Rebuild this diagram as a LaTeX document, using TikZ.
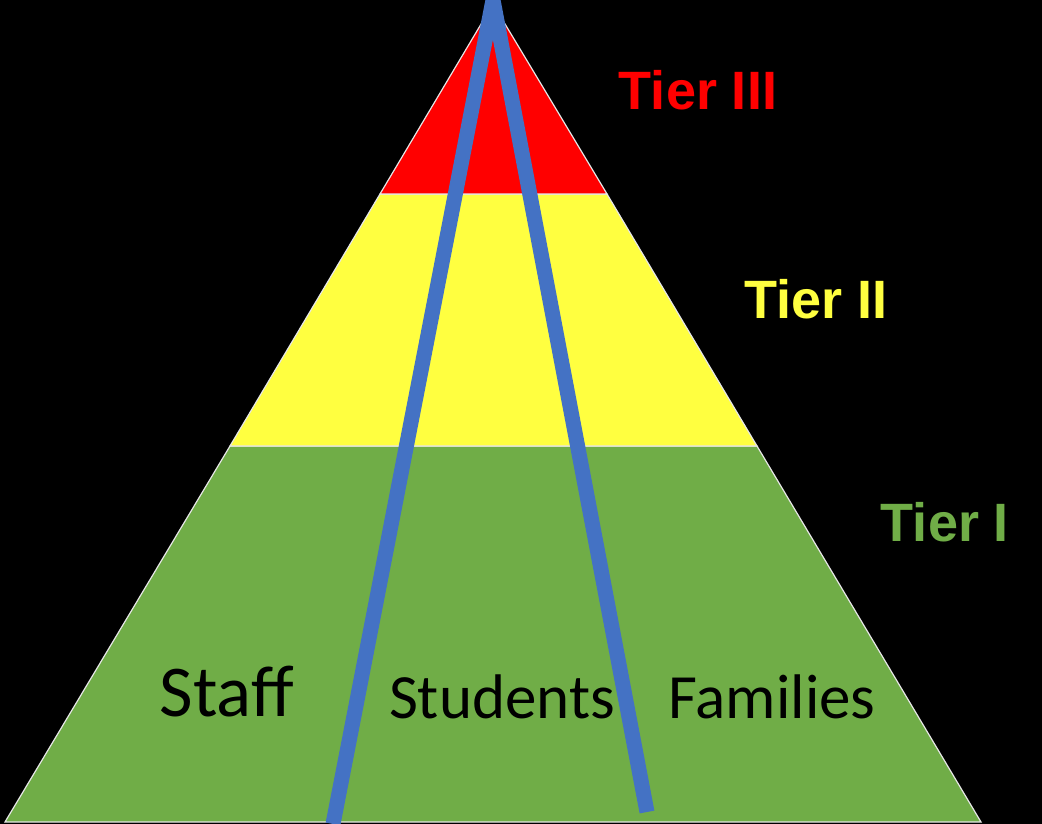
\documentclass[tikz,border=0pt]{standalone}
\usepackage{fontspec}
\setmainfont{Carlito}
\newfontfamily\tierfont{Liberation Sans}
\definecolor{tiergreen}{HTML}{70AD47}
\definecolor{tieryellow}{HTML}{FFFF40}
\definecolor{tierred}{HTML}{FF0000}
\definecolor{divider}{HTML}{4472C4}
\definecolor{rim}{HTML}{E6E6E6}
\begin{document}
\begin{tikzpicture}[x=1pt,y=-1pt,
  tier/.style={draw=rim, line width=1.2pt, line join=miter},
  tierlabel/.style={font=\tierfont\bfseries\fontsize{54}{54}\selectfont, inner sep=0pt},
  grouplabel/.style={text=black, inner sep=0pt},
  divline/.style={draw=divider, line width=15pt}]
  % canvas
  \fill[black] (0,0) rectangle (1042,824);
  \useasboundingbox (0,0) rectangle (1042,824);
  % pyramid corners and tier breaks
  \coordinate (apex) at (493,4);
  \coordinate (bl) at (5,822);
  \coordinate (br) at (981,822);
  \coordinate (rl) at (380,194);
  \coordinate (rr) at (607,194);
  \coordinate (yl) at (230,446);
  \coordinate (yr) at (757,446);
  % tiers
  \path[tier, fill=tiergreen] (yl) -- (yr) -- (br) -- (bl) -- cycle;
  \path[tier, fill=tieryellow] (rl) -- (rr) -- (yr) -- (yl) -- cycle;
  \path[tier, fill=tierred] (apex) -- (rr) -- (rl) -- cycle;
  % tier labels
  \node[tierlabel, text=tierred] (t3) at (698,90) {Tier III};
  \node[tierlabel, text=tieryellow] (t2) at (816,299) {Tier II};
  \node[tierlabel, text=tiergreen] (t1) at (945,522) {Tier I};
  % group labels
  \node[grouplabel, font=\fontsize{73}{73}\selectfont] (staff) at (227,692) {Sta{}f{}f};
  \node[grouplabel, font=\fontsize{63}{63}\selectfont] (students) at (502,697) {Students};
  \node[grouplabel, font=\fontsize{63}{63}\selectfont] (families) at (772,697) {Families};
  % dividing lines from the apex
  \coordinate (top) at (493,0);
  \coordinate (leftfoot) at (333,824);
  \coordinate (rightfoot) at (647,812);
  \draw[divline] (leftfoot) -- (top) -- (rightfoot);
\end{tikzpicture}
\end{document}
